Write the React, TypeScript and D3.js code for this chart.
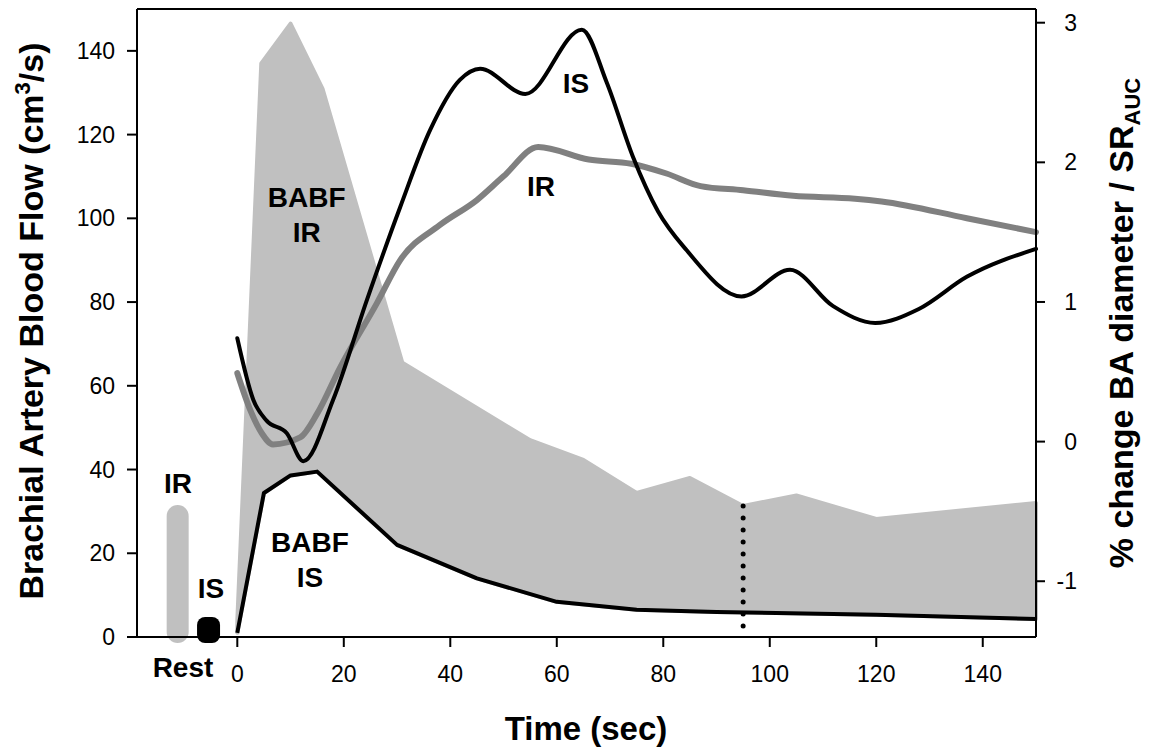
import React from "react";
import * as d3 from "d3";

// ---- data ----
// Brachial artery blood flow (cm3/s), left axis
const irFlowTime = [0, 4.5, 10, 16, 31, 55, 65, 75, 85, 95, 105, 120, 150];
const irFlowValue = [4, 137, 146.5, 131, 65.5, 47, 42.3, 34.4, 38, 31.3, 33.8, 28.2, 32];
const isFlowTime = [0, 5, 10, 15, 30, 45, 60, 75, 90, 120, 150];
const isFlowValue = [1, 34.4, 38.6, 39.5, 22, 14, 8.4, 6.5, 6, 5.3, 4.3];

// Rest flows
const restLabels = ["IR", "IS"];
const restValues = [31.5, 4.8];

// % change BA diameter / SR_AUC, right axis
const irPctTime = [0, 2.5, 4.6, 6.7, 11.8, 15, 19.3, 26.2, 30.6, 38, 45, 50, 56.5, 66, 74, 80.6, 87, 95, 104.4, 116, 121, 137, 150];
const irPctValue = [0.49, 0.22, 0.06, -0.02, 0.03, 0.2, 0.53, 0.99, 1.3, 1.55, 1.73, 1.9, 2.11, 2.02, 1.99, 1.92, 1.83, 1.8, 1.76, 1.74, 1.72, 1.6, 1.5];
const isPctTime = [0, 3, 5.5, 9.3, 12.4, 18, 24.3, 30.6, 36.2, 41.8, 45.6, 54.1, 64.7, 69.4, 74.3, 79, 84.4, 94.7, 103.8, 111.9, 119.8, 128, 137, 150];
const isPctValue = [0.74, 0.3, 0.15, 0.06, -0.14, 0.3, 1.01, 1.68, 2.23, 2.59, 2.67, 2.49, 2.95, 2.57, 2.04, 1.65, 1.37, 1.04, 1.23, 0.97, 0.85, 0.95, 1.18, 1.38];

const markerTime = 95;
const markerTop = 31.3;

const xTicks = [0, 20, 40, 60, 80, 100, 120, 140];
const yLeftTicks = [0, 20, 40, 60, 80, 100, 120, 140];
const yRightTicks = [-1, 0, 1, 2, 3];

// ---- layout ----
const W = 1151;
const H = 750;
const LEFT = 137;
const RIGHT = 1036;
const TOP = 9;
const BOTTOM = 637;
const restPos = [-11.2, -5.4];

const FONT = "'Liberation Sans', Arial, Helvetica, sans-serif";

export default function App() {
  const x = d3.scaleLinear().domain([0, 150]).range([237.3, RIGHT]);
  const yL = d3.scaleLinear().domain([0, 150]).range([BOTTOM, TOP]);
  const yR = d3.scaleLinear().domain([0, 3]).range([441.6, 22.7]);

  type P = [number, number];
  const irFlow: P[] = irFlowTime.map((t, i) => [t, irFlowValue[i]]);
  const isFlow: P[] = isFlowTime.map((t, i) => [t, isFlowValue[i]]);
  const poly: P[] = [...irFlow, ...isFlow.slice().reverse()];

  const lineL = d3
    .line<P>()
    .x((d) => x(d[0]))
    .y((d) => yL(d[1]));
  const areaPath = lineL(poly) + "Z";
  const isFlowPath = lineL(isFlow) || "";

  const lineR = d3
    .line<P>()
    .x((d) => x(d[0]))
    .y((d) => yR(d[1]))
    .curve(d3.curveMonotoneX);
  const irPctPath = lineR(irPctTime.map((t, i) => [t, irPctValue[i]] as P)) || "";
  const isPctPath = lineR(isPctTime.map((t, i) => [t, isPctValue[i]] as P)) || "";

  const restWidths = [22, 23];
  const restRx = [11, 8];

  return (
    <svg
      width={W}
      height={H}
      style={{ position: "absolute", left: 0, top: 0, background: "#fff" }}
      fontFamily={FONT}
    >
      {/* gray IR flow area */}
      <path d={areaPath} fill="#c0c0c0" stroke="#c0c0c0" strokeWidth={4} strokeLinejoin="round" />

      {/* rest bars */}
      {restValues.map((v, i) => (
        <rect
          key={restLabels[i]}
          x={x(restPos[i]) - restWidths[i] / 2}
          y={yL(v)}
          width={restWidths[i]}
          height={yL(0) + 6 - yL(v)}
          rx={restRx[i]}
          fill={i === 0 ? "#c0c0c0" : "#000"}
        />
      ))}

      {/* IS flow line */}
      <path d={isFlowPath} fill="none" stroke="#000" strokeWidth={4} strokeLinejoin="round" />

      {/* dotted marker */}
      <line
        x1={x(markerTime)}
        x2={x(markerTime)}
        y1={yL(markerTop)}
        y2={yL(0)}
        stroke="#000"
        strokeWidth={5}
        strokeLinecap="round"
        strokeDasharray="0 12"
      />

      {/* % change lines */}
      <path d={irPctPath} fill="none" stroke="#808080" strokeWidth={6} strokeLinecap="round" />
      <path d={isPctPath} fill="none" stroke="#000" strokeWidth={4} strokeLinecap="round" />

      {/* frame */}
      <line x1={LEFT} x2={RIGHT} y1={TOP} y2={TOP} stroke="#000" strokeWidth={2} />
      <line x1={LEFT} x2={RIGHT} y1={BOTTOM} y2={BOTTOM} stroke="#000" strokeWidth={2} />
      <line x1={LEFT} x2={LEFT} y1={TOP} y2={BOTTOM} stroke="#000" strokeWidth={2} />
      <line x1={RIGHT} x2={RIGHT} y1={TOP} y2={BOTTOM} stroke="#000" strokeWidth={2} />

      {/* x ticks */}
      {xTicks.map((t) => (
        <g key={"x" + t}>
          <line x1={x(t)} x2={x(t)} y1={BOTTOM} y2={BOTTOM + 10} stroke="#000" strokeWidth={2} />
          <text x={x(t)} y={681.5} fontSize={23} textAnchor="middle" fill="#000">
            {t}
          </text>
        </g>
      ))}
      <text x={183} y={677} fontSize={28} fontWeight="bold" textAnchor="middle">
        Rest
      </text>

      {/* left ticks */}
      {yLeftTicks.map((v) => (
        <g key={"l" + v}>
          <line x1={LEFT - 10} x2={LEFT} y1={yL(v)} y2={yL(v)} stroke="#000" strokeWidth={2} />
          <text x={115} y={yL(v) + 8} fontSize={23} textAnchor="end">
            {v}
          </text>
        </g>
      ))}

      {/* right ticks */}
      {yRightTicks.map((v) => (
        <g key={"r" + v}>
          <line x1={RIGHT} x2={RIGHT + 9} y1={yR(v)} y2={yR(v)} stroke="#000" strokeWidth={2} />
          <text x={1077} y={yR(v) + 8} fontSize={23} textAnchor="end">
            {v}
          </text>
        </g>
      ))}

      {/* axis titles */}
      <text
        transform="translate(43,321) rotate(-90)"
        fontSize={34}
        fontWeight="bold"
        textAnchor="middle"
      >
        Brachial Artery Blood Flow (cm
        <tspan fontSize={22} dy={-13}>
          3
        </tspan>
        <tspan dy={13}>/s)</tspan>
      </text>
      <text
        transform="translate(1133,323) rotate(-90)"
        fontSize={34}
        fontWeight="bold"
        textAnchor="middle"
      >
        % change BA diameter / SR
        <tspan fontSize={22} dy={7}>
          AUC
        </tspan>
      </text>
      <text x={586} y={740} fontSize={33} fontWeight="bold" textAnchor="middle">
        Time (sec)
      </text>

      {/* annotations */}
      <g fontSize={28} fontWeight="bold" textAnchor="middle">
        <text x={306.7} y={206.7}>BABF</text>
        <text x={306.7} y={242}>IR</text>
        <text x={576} y={92.7}>IS</text>
        <text x={541} y={196}>IR</text>
        <text x={310} y={551.7}>BABF</text>
        <text x={310} y={586.7}>IS</text>
        <text x={178} y={493}>IR</text>
        <text x={211} y={598}>IS</text>
      </g>
    </svg>
  );
}
